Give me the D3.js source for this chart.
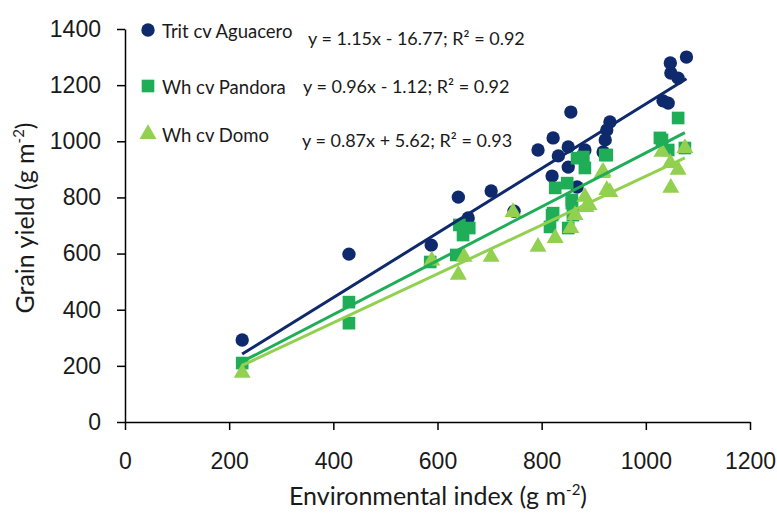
<!DOCTYPE html>
<html>
<head>
<meta charset="utf-8">
<script src="https://cdn.jsdelivr.net/npm/d3@7"></script>
<style>
  body { margin: 0; background: #fff; }
  svg { font-family: Lato, "Open Sans", sans-serif; }
  .axis path, .axis line { stroke: #000; stroke-width: 1.5px; }
  .axis text { font-size: 23px; fill: #1a1a1a; }
</style>
</head>
<body>
<script>
// series data
var seriesNames = ["Trit cv Aguacero", "Wh cv Pandora", "Wh cv Domo"];
var equations = ["y = 1.15x - 16.77; R\u00b2 = 0.92", "y = 0.96x - 1.12; R\u00b2 = 0.92", "y = 0.87x + 5.62; R\u00b2 = 0.93"];
var slopes = [1.15, 0.96, 0.87];
var intercepts = [-16.77, -1.12, 5.62];

var aguaceroX = [225, 430, 588, 640, 659, 703, 747, 793, 820, 822, 832, 851, 851, 856, 868, 883, 918, 922, 925, 931, 1033, 1043, 1048, 1062, 1047, 1078];
var aguaceroY = [292, 598, 630, 801, 727, 823, 751, 969, 876, 1012, 948, 980, 908, 1104, 837, 969, 962, 1005, 1040, 1069, 1144, 1136, 1243, 1225, 1279, 1300];

var pandoraX = [225, 430, 430, 586, 636, 649, 661, 642, 816, 820, 822, 826, 849, 851, 858, 858, 860, 868, 880, 883, 922, 925, 1027, 1031, 1043, 1062, 1075];
var pandoraY = [210, 427, 352, 570, 595, 666, 691, 702, 695, 737, 744, 834, 851, 691, 791, 780, 737, 940, 944, 905, 951, 951, 1012, 1005, 969, 1083, 976];

var domoX = [225, 589, 640, 651, 703, 745, 793, 826, 856, 864, 883, 885, 891, 916, 918, 925, 931, 1031, 1047, 1048, 1062, 1075];
var domoY = [175, 575, 524, 588, 588, 748, 624, 655, 691, 737, 802, 766, 773, 887, 891, 826, 819, 962, 922, 834, 898, 976];

var xTicks = [0, 200, 400, 600, 800, 1000, 1200];
var yTicks = [0, 200, 400, 600, 800, 1000, 1200, 1400];

var colors = ["#0e2a6c", "#1fae57", "#92d050"];
var shapes = [d3.symbolCircle, d3.symbolSquare, d3.symbolTriangle];
var sizes = [140, 160, 125];

var width = 777, height = 518;
var svg = d3.select("body").append("svg").attr("width", width).attr("height", height);

var x = d3.scaleLinear().domain([0, 1200]).range([125, 750]);
var y = d3.scaleLinear().domain([0, 1400]).range([422, 29]);

var yAxis = svg.append("g").attr("class", "axis")
  .attr("transform", "translate(125,0)")
  .call(d3.axisLeft(y).tickValues(yTicks).tickFormat(d3.format("d")).tickSize(8).tickSizeOuter(0).tickPadding(16));
var xAxis = svg.append("g").attr("class", "axis")
  .attr("transform", "translate(0,422)")
  .call(d3.axisBottom(x).tickValues(xTicks).tickFormat(d3.format("d")).tickSize(8).tickSizeOuter(0).tickPadding(23));

// axis titles
var yt = svg.append("text").attr("transform", "translate(34,218) rotate(-90)")
  .attr("text-anchor", "middle").style("font-size", "25px").attr("fill", "#1a1a1a");
yt.append("tspan").text("Grain yield (g m");
yt.append("tspan").attr("dy", -10).style("font-size", "15px").text("-2");
yt.append("tspan").attr("dy", 10).text(")");

var xt = svg.append("text").attr("x", 438).attr("y", 505)
  .attr("text-anchor", "middle").style("font-size", "25px").attr("fill", "#1a1a1a");
xt.append("tspan").text("Environmental index (g m");
xt.append("tspan").attr("dy", -10).style("font-size", "15px").text("-2");
xt.append("tspan").attr("dy", 10).text(")");

// markers
var allX = [aguaceroX, pandoraX, domoX];
var allY = [aguaceroY, pandoraY, domoY];
allX.forEach(function (xs, s) {
  var pts = xs.map(function (v, i) { return [v, allY[s][i]]; });
  svg.append("g").selectAll("path")
    .data(pts)
    .enter()
    .append("path")
    .attr("d", d3.symbol().type(shapes[s]).size(sizes[s]))
    .attr("transform", function (d) { return "translate(" + x(d[0]) + "," + y(d[1]) + ")"; })
    .attr("fill", colors[s]);
});

// trend lines, over the markers
allX.forEach(function (xs, s) {
  var ext = d3.extent(xs);
  svg.append("line")
    .attr("x1", x(ext[0])).attr("y1", y(slopes[s] * ext[0] + intercepts[s]))
    .attr("x2", x(ext[1])).attr("y2", y(slopes[s] * ext[1] + intercepts[s]))
    .attr("stroke", colors[s]).attr("stroke-width", 3);
});

// legend
var legY = [32, 88, 136];
var eqX = [308, 303, 302];
var eqY = [45, 93, 147];
seriesNames.forEach(function (n, s) {
  svg.append("path")
    .attr("d", d3.symbol().type(shapes[s]).size(sizes[s]))
    .attr("transform", "translate(148," + (legY[s] - 2) + ")")
    .attr("fill", colors[s]);
  svg.append("text").attr("x", 162).attr("y", legY[s] + 6)
    .style("font-size", "18.5px").attr("fill", "#1a1a1a").text(n);
  svg.append("text").attr("x", eqX[s]).attr("y", eqY[s])
    .style("font-size", "18px").attr("fill", "#1a1a1a").text(equations[s]);
});
</script>
</body>
</html>
